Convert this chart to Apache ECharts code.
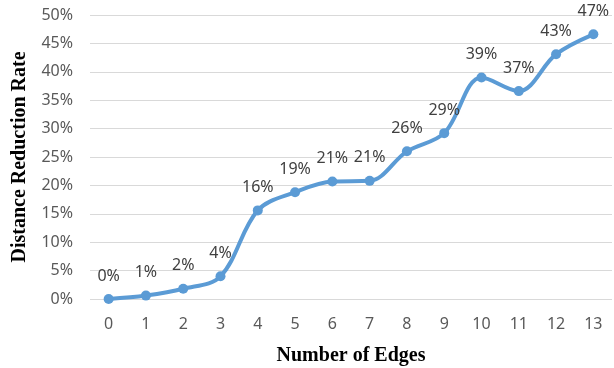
<!DOCTYPE html>
<html>
<head>
<meta charset="utf-8">
<script src="https://cdn.jsdelivr.net/npm/echarts@6/dist/echarts.min.js"></script>
<style>
  html, body { margin: 0; padding: 0; background: #fff; }
  #chart { width: 614px; height: 368px; }
</style>
</head>
<body>
<div id="chart"></div>
<script>
// Number of edges on the x axis
const edgeCounts = ['0', '1', '2', '3', '4', '5', '6', '7', '8', '9', '10', '11', '12', '13'];
// Distance reduction rate (percent) for each edge count
const reductionRate = [0, 0.6, 1.8, 4.0, 15.6, 18.8, 20.7, 20.8, 26.0, 29.2, 39.0, 36.6, 43.1, 46.6];

const chart = echarts.init(document.getElementById('chart'), null, { renderer: 'canvas' });

const tickFont = { color: '#595959', fontSize: 16, fontFamily: 'Noto Sans' };
const titleFont = { color: '#000', fontSize: 20, fontWeight: 'bold', fontFamily: 'Liberation Serif' };

chart.setOption({
  animation: false,
  grid: { left: 90, right: 2, top: 15, bottom: 69, containLabel: false, outerBoundsMode: 'none' },
  xAxis: {
    type: 'category',
    data: edgeCounts,
    boundaryGap: true,
    axisLine: { show: false },
    axisTick: { show: false },
    axisLabel: Object.assign({ margin: 17 }, tickFont),
    name: 'Number of Edges',
    nameLocation: 'middle',
    nameGap: 47,
    nameTextStyle: titleFont
  },
  yAxis: {
    type: 'value',
    min: 0,
    max: 50,
    interval: 5,
    axisLine: { show: false },
    axisTick: { show: false },
    axisLabel: Object.assign({ margin: 17, formatter: '{value}%' }, tickFont),
    splitLine: { lineStyle: { color: '#d9d9d9', width: 1 } },
    name: 'Distance Reduction Rate',
    nameLocation: 'middle',
    nameGap: 60,
    nameTextStyle: titleFont
  },
  series: [{
    type: 'line',
    data: reductionRate,
    smooth: 0.35,
    symbol: 'circle',
    symbolSize: 10,
    lineStyle: { color: '#5B9BD5', width: 4 },
    itemStyle: { color: '#5B9BD5' },
    label: {
      show: true,
      position: 'top',
      distance: 10,
      color: '#404040',
      fontSize: 16,
      fontFamily: 'Noto Sans',
      formatter: p => Math.round(p.value) + '%'
    }
  }]
});
</script>
</body>
</html>
